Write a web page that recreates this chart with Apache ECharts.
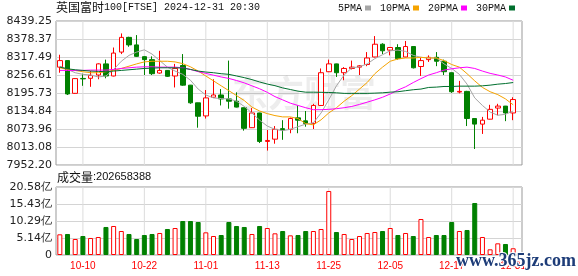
<!DOCTYPE html>
<html><head><meta charset="utf-8">
<script src="https://cdn.jsdelivr.net/npm/echarts@6/dist/echarts.min.js"></script>
<style>html,body{margin:0;padding:0;background:#fff}#c{width:578px;height:276px}</style>
</head><body><div id="c"></div>
<script>
const dates = ['10-07','10-08','10-09','10-10','10-11','10-14','10-15','10-16','10-17','10-18',
'10-21','10-22','10-23','10-24','10-25','10-28','10-29','10-30','10-31','11-01',
'11-04','11-05','11-06','11-07','11-08','11-11','11-12','11-13','11-14','11-15',
'11-18','11-19','11-20','11-21','11-22','11-25','11-26','11-27','11-28','11-29',
'12-02','12-03','12-04','12-05','12-06','12-09','12-10','12-11','12-12','12-13',
'12-16','12-17','12-18','12-19','12-20','12-23','12-24','12-27','12-30','12-31'];
const opens = [8283.2,8305.3,8194.6,8245.0,8245.5,8256.6,8294.2,8253.3,8334.1,8383.9,
8358.4,8318.6,8308.6,8263.2,8272.1,8253.3,8288.7,8222.3,8162.5,8118.2,
8181.3,8189.1,8175.8,8168.0,8145.9,8078.4,8128.2,8031.9,8039.6,8075.1,
8072.8,8111.6,8101.6,8092.8,8153.6,8267.7,8294.2,8264.3,8278.7,8283.2,
8292.0,8317.5,8360.7,8340.7,8349.6,8317.5,8352.9,8285.4,8308.6,8316.4,
8303.1,8264.3,8199.0,8201.2,8109.4,8090.5,8107.2,8144.8,8151.4,8128.2];
const closes = [8305.3,8192.4,8244.4,8243.5,8255.5,8294.2,8253.3,8330.8,8383.9,8358.4,
8319.7,8308.6,8261.0,8272.1,8252.2,8278.7,8222.3,8162.5,8117.1,8179.1,
8189.1,8175.8,8168.0,8148.1,8076.2,8128.2,8031.9,8035.2,8072.8,8070.6,
8109.4,8103.8,8092.8,8153.6,8264.3,8294.2,8264.3,8278.7,8283.2,8287.6,
8314.2,8360.7,8338.5,8349.6,8312.0,8352.9,8281.0,8305.3,8316.4,8303.1,
8267.7,8200.1,8201.2,8109.4,8090.5,8103.8,8140.4,8151.4,8128.2,8173.6];
const lows = [8264.3,8189.0,8193.0,8220.0,8216.7,8242.2,8245.5,8252.0,8327.4,8352.0,
8317.5,8256.6,8256.6,8261.0,8250.0,8214.5,8220.1,8159.2,8078.4,8109.4,
8180.0,8153.6,8142.6,8147.0,8068.4,8077.5,8026.4,8001.0,8024.2,8037.4,
8059.6,8059.6,8081.7,8073.9,8152.5,8266.5,8250.0,8238.9,8275.4,8256.6,
8286.5,8316.5,8327.4,8323.0,8308.6,8316.5,8278.7,8253.3,8300.9,8286.5,
8256.6,8196.0,8194.6,8083.9,8006.4,8057.3,8106.0,8120.4,8100.5,8103.8];
const highs = [8325.2,8306.0,8246.0,8261.0,8269.9,8296.0,8308.6,8349.6,8397.2,8386.0,
8391.6,8320.0,8319.7,8338.5,8273.0,8294.2,8327.4,8223.0,8163.0,8205.7,
8242.2,8209.0,8305.3,8198.0,8146.5,8144.8,8129.0,8070.6,8083.9,8103.8,
8112.7,8153.6,8134.8,8159.2,8278.7,8308.6,8295.0,8283.2,8305.3,8289.8,
8334.1,8388.3,8364.0,8350.5,8360.7,8371.7,8354.0,8314.2,8323.0,8334.1,
8308.6,8265.0,8236.7,8203.0,8110.0,8114.9,8155.8,8159.2,8152.0,8181.3];
const ma5 = [8286.5,8275.4,8264.3,8258.8,8256.6,8250.0,8253.3,8275.4,8303.1,8323.0,
8334.1,8341.8,8327.4,8305.3,8283.2,8269.9,8258.8,8238.9,8209.0,8189.1,
8179.1,8176.9,8175.8,8168.0,8150.3,8128.2,8103.8,8083.9,8072.8,8068.4,
8072.8,8081.7,8090.5,8094.9,8128.2,8172.5,8220.0,8256.6,8281.0,8284.3,
8294.2,8312.0,8325.2,8338.5,8340.7,8336.3,8323.0,8316.4,8314.2,8314.2,
8294.2,8278.7,8258.8,8225.6,8179.1,8153.6,8131.5,8120.4,8123.7,8134.8];
const ma10 = [8281.0,8275.4,8272.0,8267.7,8264.3,8264.3,8267.7,8272.0,8278.7,8286.5,
8294.2,8300.9,8303.1,8303.1,8303.1,8300.9,8295.0,8284.3,8269.9,8253.3,
8236.7,8220.0,8203.5,8186.9,8170.3,8148.1,8134.8,8126.0,8119.3,8114.9,
8114.9,8109.4,8092.0,8088.0,8105.0,8128.2,8145.9,8168.0,8186.9,8209.0,
8231.2,8261.0,8283.2,8303.1,8310.9,8314.2,8314.2,8316.4,8314.2,8314.2,
8305.3,8292.0,8283.2,8261.0,8236.7,8214.5,8200.1,8190.2,8175.8,8155.8];
const ma20 = [8272.1,8272.1,8272.1,8272.1,8273.2,8273.2,8273.2,8275.4,8278.7,8281.0,
8283.2,8284.3,8284.3,8283.2,8283.2,8283.2,8281.0,8275.4,8268.0,8262.0,
8256.0,8250.0,8245.0,8238.0,8230.0,8220.0,8210.0,8198.0,8183.5,8172.5,
8161.4,8153.6,8145.9,8139.3,8139.3,8140.4,8142.6,8145.9,8150.3,8157.0,
8164.7,8172.5,8181.3,8192.4,8205.7,8216.7,8231.1,8244.4,8256.6,8264.3,
8273.2,8277.6,8281.0,8283.2,8278.7,8269.9,8262.2,8256.6,8250.0,8238.9];
const ma30 = [8283.2,8277.6,8274.3,8272.1,8269.9,8268.8,8267.7,8269.9,8272.1,8274.3,
8276.5,8278.7,8279.8,8281.0,8281.0,8281.0,8280.0,8275.4,8269.9,8266.6,
8264.3,8261.0,8258.8,8253.3,8247.7,8241.0,8233.0,8226.0,8220.5,8213.0,
8207.5,8202.0,8198.5,8198.5,8198.0,8197.5,8196.4,8194.5,8194.5,8194.5,
8194.5,8195.3,8196.4,8198.6,8200.0,8203.5,8206.8,8209.0,8214.5,8215.6,
8217.8,8217.8,8218.9,8218.9,8218.9,8220.0,8222.3,8225.6,8227.8,8231.1];
// 成交量 (亿)
const volumes = [6.26,6.36,4.84,5.75,5.15,5.45,8.48,8.78,7.26,6.36,
4.84,6.05,6.36,6.66,7.87,8.17,10.29,10.29,9.99,6.86,
5.75,6.05,9.99,8.78,8.48,6.36,8.78,8.17,6.56,7.26,
5.95,6.05,7.26,7.26,7.87,19.37,6.96,6.36,4.84,5.75,
6.66,6.96,7.26,8.17,6.05,6.66,5.75,10.90,5.45,6.05,
6.05,9.99,7.26,7.57,15.74,5.45,1.72,3.53,3.33,2.03];
const priceTicks = ['7952.20','8013.08','8073.96','8134.84','8195.73','8256.61','8317.49','8378.37','8439.25'];
const volTicks = ['0','5.14亿','10.29亿','15.43亿','20.58亿'];
const volMaxValue = 20.58;
const dateLabels = ['10-10','10-22','11-01','11-13','11-25','12-05','12-17','12-31'];
const maNames = ['5PMA','10PMA','20PMA','30PMA'];
const maColors = ['#a6a6a6','#f5a300','#ff00ff','#006f2e'];
const titleName = '英国富时';
const titleCode = '100[FTSE] 2024-12-31 20:30';
const volTitle = '成交量';
const lastVolume = '202658388';

const pMin = parseFloat(priceTicks[0]);
const pMax = parseFloat(priceTicks[priceTicks.length - 1]);
const pInt = (pMax - pMin) / (priceTicks.length - 1);
const vInt = volMaxValue / (volTicks.length - 1);

const RED = '#ff0000', GREEN = '#008000';
const gridL = 56, dataW = 461, frameR = 56;
const mainTop = 21, mainH = 144, volTop = 187, volH = 68;
const labelFont = {fontFamily: 'DejaVu Sans', fontSize: 11, color: '#222'};

const candleData = dates.map((d, i) => [opens[i], closes[i], lows[i], highs[i]]);
const volData = volumes.map((v, i) => {
  const up = closes[i] >= opens[i];
  return {value: v, itemStyle: up ? {color: '#fff', borderColor: RED, borderWidth: 1} : {color: GREEN, borderColor: GREEN, borderWidth: 1}};
});
const showDate = (idx, val) => dateLabels.indexOf(val) >= 0;
// guide columns: full-height thin bars only at labelled dates
const guideMain = dates.map(d => dateLabels.indexOf(d) >= 0 ? pMax : '-');
const guideVol = dates.map(d => dateLabels.indexOf(d) >= 0 ? volMaxValue : '-');

const watermarks = [
  {type: 'text', left: 232, top: 75, z: 1, silent: true,
   style: {text: '东方财富', fontFamily: 'Noto Sans CJK SC', fontWeight: 'bold', fontSize: 36, fill: 'rgba(0,0,0,0.07)'}},
  {type: 'text', left: 455, top: 251, z: 100, silent: true,
   style: {text: 'www.365jz.com', fontFamily: 'Liberation Serif', fontWeight: 'bold', fontSize: 18, fill: '#1d3c78', stroke: '#ffffff', lineWidth: 2}}
];

const catAxisHidden = (gi) => ({type: 'category', gridIndex: gi, data: dates, boundaryGap: true,
  axisLine: {show: false}, axisTick: {show: false}, axisLabel: {show: false}, splitLine: {show: false}});

const chart = echarts.init(document.getElementById('c'), null, {renderer: 'canvas'});
chart.setOption({
  animation: false,
  backgroundColor: '#fff',
  title: [
    {text: '{a|' + titleName + '}{b|' + titleCode + '}', left: 56, top: 1, padding: 0,
     textStyle: {fontWeight: 'normal', rich: {a: {fontFamily: 'Noto Sans CJK SC', fontSize: 12, fontWeight: 'normal', color: '#111'}, b: {fontFamily: 'Liberation Mono', fontSize: 10, fontWeight: 'normal', color: '#111'}}}},
    {text: '{a|' + volTitle + '}{b|:' + lastVolume + '}', left: 57, top: 171, padding: 0,
     textStyle: {fontWeight: 'normal', rich: {a: {fontFamily: 'Noto Sans CJK SC', fontSize: 12, fontWeight: 'normal', color: '#111'}, b: {fontFamily: 'Liberation Sans', fontSize: 11, fontWeight: 'normal', color: '#111'}}}}
  ],
  legend: {
    data: maNames, left: 338, top: 3, padding: 0, align: 'right', icon: 'rect',
    itemWidth: 6, itemHeight: 5, itemGap: 9, selectedMode: false,
    textStyle: {fontFamily: 'Liberation Mono', fontSize: 10, color: '#111', padding: [0, -2, 0, 0]}
  },
  grid: [
    {left: gridL, right: frameR, top: mainTop, height: mainH, show: true, borderColor: '#999', borderWidth: 1, backgroundColor: 'transparent', outerBoundsMode: 'none'},
    {left: gridL, width: dataW, top: mainTop, height: mainH, outerBoundsMode: 'none'},
    {left: gridL, right: frameR, top: volTop, height: volH, show: true, borderColor: '#999', borderWidth: 1, backgroundColor: 'transparent', outerBoundsMode: 'none'},
    {left: gridL, width: dataW, top: volTop, height: volH, outerBoundsMode: 'none'}
  ],
  xAxis: [
    {type: 'value', gridIndex: 0, min: 0, max: 1, show: false},
    catAxisHidden(1),
    {type: 'value', gridIndex: 2, min: 0, max: 1, show: false},
    {type: 'category', gridIndex: 3, data: dates, boundaryGap: true,
     axisLine: {show: false}, axisTick: {show: false},
     axisLabel: {show: true, interval: showDate, color: RED, fontFamily: 'Liberation Sans', fontSize: 10, margin: 6},
     splitLine: {show: false}},
    catAxisHidden(1),
    catAxisHidden(3)
  ],
  yAxis: [
    {type: 'value', gridIndex: 0, min: pMin, max: pMax, interval: pInt,
     axisLine: {show: false}, axisTick: {show: false},
     axisLabel: Object.assign({margin: 4, formatter: v => priceTicks[Math.round((v - pMin) / pInt)]}, labelFont),
     splitLine: {show: true, lineStyle: {color: '#d4d4d4', width: 1}}},
    {type: 'value', gridIndex: 1, min: pMin, max: pMax, show: false},
    {type: 'value', gridIndex: 2, min: 0, max: volMaxValue, interval: vInt,
     axisLine: {show: false}, axisTick: {show: false},
     axisLabel: Object.assign({margin: 4, formatter: v => volTicks[Math.round(v / vInt)]}, labelFont),
     splitLine: {show: true, lineStyle: {color: '#d4d4d4', width: 1}}},
    {type: 'value', gridIndex: 3, min: 0, max: volMaxValue, show: false},
    {type: 'value', gridIndex: 1, min: pMin, max: pMax, show: false},
    {type: 'value', gridIndex: 3, min: 0, max: volMaxValue, show: false}
  ],
  graphic: {elements: watermarks},
  series: [
    {type: 'bar', name: 'guideMain', xAxisIndex: 4, yAxisIndex: 4, data: guideMain, barWidth: 1, z: 1, silent: true,
     itemStyle: {color: '#dcdcdc'}},
    {type: 'bar', name: 'guideVol', xAxisIndex: 5, yAxisIndex: 5, data: guideVol, barWidth: 1, z: 1, silent: true,
     itemStyle: {color: '#dcdcdc'}},
    {type: 'candlestick', name: 'FTSE', xAxisIndex: 1, yAxisIndex: 1, data: candleData, barWidth: 5, z: 3,
     itemStyle: {color: '#ffffff', color0: GREEN, borderColor: RED, borderColor0: GREEN, borderWidth: 1}},
    {type: 'line', name: maNames[0], xAxisIndex: 1, yAxisIndex: 1, data: ma5, symbol: 'none', z: 4, lineStyle: {width: 1, color: maColors[0]}, itemStyle: {color: maColors[0]}},
    {type: 'line', name: maNames[1], xAxisIndex: 1, yAxisIndex: 1, data: ma10, symbol: 'none', z: 4, lineStyle: {width: 1, color: maColors[1]}, itemStyle: {color: maColors[1]}},
    {type: 'line', name: maNames[2], xAxisIndex: 1, yAxisIndex: 1, data: ma20, symbol: 'none', z: 4, lineStyle: {width: 1, color: maColors[2]}, itemStyle: {color: maColors[2]}},
    {type: 'line', name: maNames[3], xAxisIndex: 1, yAxisIndex: 1, data: ma30, symbol: 'none', z: 4, lineStyle: {width: 1, color: maColors[3]}, itemStyle: {color: maColors[3]}},
    {type: 'bar', name: 'VOL', xAxisIndex: 3, yAxisIndex: 3, data: volData, barWidth: 5, z: 3}
  ]
});
</script></body></html>
